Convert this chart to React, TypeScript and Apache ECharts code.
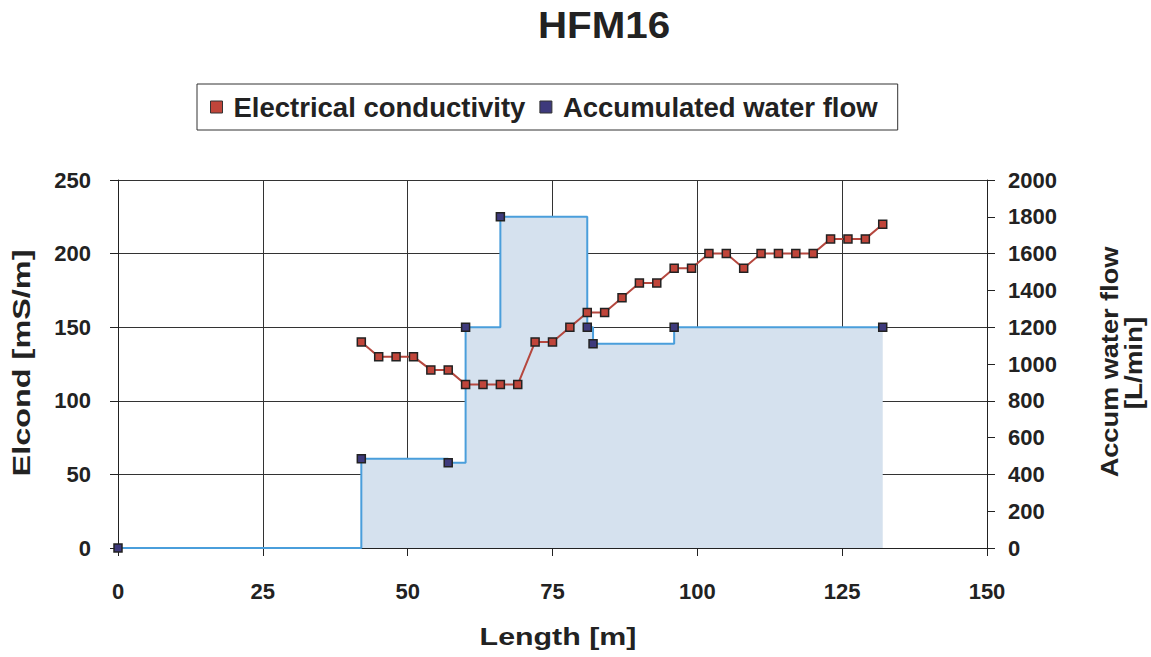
import React, { useEffect, useRef } from "react";
import * as echarts from "echarts";

// ---- Data ----
const ecLength = [42, 45, 48, 51, 54, 57, 60, 63, 66, 69, 72, 75, 78, 81, 84, 87, 90, 93, 96, 99, 102, 105, 108, 111, 114, 117, 120, 123, 126, 129, 132];
const ecValues = [140, 130, 130, 130, 121, 121, 111, 111, 111, 111, 140, 140, 150, 160, 160, 170, 180, 180, 190, 190, 200, 200, 190, 200, 200, 200, 200, 210, 210, 210, 220];
const flowLength = [0, 42, 57, 60, 66, 81, 82, 96, 132];
const flowValues = [0, 485, 463, 1200, 1800, 1200, 1110, 1200, 1200];

const seriesNames = ["Electrical conductivity", "Accumulated water flow"];
const xRange = { min: 0, max: 150, interval: 25 };
const leftRange = { min: 0, max: 250, interval: 50 };
const rightRange = { min: 0, max: 2000, interval: 200 };

const titleText = "HFM16";
const xName = "Length [m]";
const leftName = "Elcond [mS/m]";
const rightName1 = "Accum water flow";
const rightName2 = "[L/min]";

const FONT = "'Liberation Sans', Arial, Helvetica, sans-serif";
const TXT = "#222";

export default function App() {
  const ref = useRef<HTMLDivElement>(null);

  useEffect(() => {
    document.body.style.margin = "0";
    document.body.style.overflow = "hidden";
    if (!ref.current) return;
    const chart = echarts.init(ref.current, null, { renderer: "svg" });

    const tickLabel = {
      fontFamily: FONT,
      fontWeight: "bold",
      fontSize: 22,
      color: TXT,
      formatter: (v: number) => String(v),
    };

    const gtext = (text: string, x: number, y: number, size: number, scaleX: number, rotation = 0) => ({
      type: "text",
      x,
      y,
      rotation,
      scaleX,
      silent: true,
      style: {
        text,
        fontFamily: FONT,
        fontWeight: "bold",
        fontSize: size,
        fill: TXT,
        align: "center",
        verticalAlign: "middle",
        textAlign: "center",
        textVerticalAlign: "middle",
      },
    });

    const option: any = {
      animation: false,
      backgroundColor: "#ffffff",
      grid: { left: 118, right: 164, top: 180, bottom: 109, containLabel: false },
      legend: {
        left: 197,
        top: 84,
        orient: "horizontal",
        padding: [9, 20, 9, 13],
        borderColor: "#333",
        borderWidth: 1,
        itemWidth: 12,
        itemHeight: 12,
        itemGap: 14,
        icon: "rect",
        textStyle: { fontFamily: FONT, fontWeight: "bold", fontSize: 27.5, color: TXT, padding: [0, 0, 0, 6] },
        data: [
          { name: seriesNames[0], itemStyle: { color: "#c0453a", borderColor: "#333", borderWidth: 1 } },
          { name: seriesNames[1], itemStyle: { color: "#3e3a7c", borderColor: "#333", borderWidth: 1 } },
        ],
      },
      xAxis: {
        type: "value",
        min: xRange.min,
        max: xRange.max,
        interval: xRange.interval,
        axisLine: { show: true, lineStyle: { color: "#222", width: 1 } },
        axisTick: { show: true, length: 8, inside: false, lineStyle: { color: "#222" } },
        axisLabel: { ...tickLabel, margin: 32 },
        splitLine: { show: true, lineStyle: { color: "#333", width: 1 } },
      },
      yAxis: [
        {
          type: "value",
          position: "left",
          min: leftRange.min,
          max: leftRange.max,
          interval: leftRange.interval,
          axisLine: { show: true, lineStyle: { color: "#222", width: 1 } },
          axisTick: { show: true, length: 8, inside: false, lineStyle: { color: "#222" } },
          axisLabel: { ...tickLabel, margin: 27 },
          splitLine: { show: true, lineStyle: { color: "#333", width: 1 } },
        },
        {
          type: "value",
          position: "right",
          min: rightRange.min,
          max: rightRange.max,
          interval: rightRange.interval,
          axisLine: { show: true, lineStyle: { color: "#222", width: 1 } },
          axisTick: { show: true, length: 8, inside: false, lineStyle: { color: "#222" } },
          axisLabel: { ...tickLabel, margin: 21 },
          splitLine: { show: false },
        },
      ],
      series: [
        {
          name: seriesNames[1],
          type: "line",
          yAxisIndex: 1,
          step: "end",
          data: flowLength.map((x, i) => [x, flowValues[i]]),
          symbol: "rect",
          symbolSize: 8,
          showSymbol: true,
          lineStyle: { color: "#4a9edb", width: 2 },
          itemStyle: { color: "#3e3a7c", borderColor: "#222", borderWidth: 1.5 },
          areaStyle: { color: "#d5e1ee", opacity: 1 },
          z: 2,
        },
        {
          name: seriesNames[0],
          type: "line",
          yAxisIndex: 0,
          data: ecLength.map((x, i) => [x, ecValues[i]]),
          symbol: "rect",
          symbolSize: 8,
          showSymbol: true,
          lineStyle: { color: "#b5473e", width: 2 },
          itemStyle: { color: "#c0453a", borderColor: "#222", borderWidth: 1.5 },
          z: 3,
        },
      ],
      graphic: [
        gtext(titleText, 604, 25, 37, 1.09),
        gtext(xName, 558, 637, 23, 1.32),
        gtext(leftName, 22, 363, 23, 1.41, Math.PI / 2),
        gtext(rightName1, 1110, 362, 23, 1.18, Math.PI / 2),
        gtext(rightName2, 1134, 363, 23, 1.21, Math.PI / 2),
      ],
    };

    chart.setOption(option);
    return () => chart.dispose();
  }, []);

  return <div ref={ref} style={{ width: 1151, height: 657 }} />;
}
